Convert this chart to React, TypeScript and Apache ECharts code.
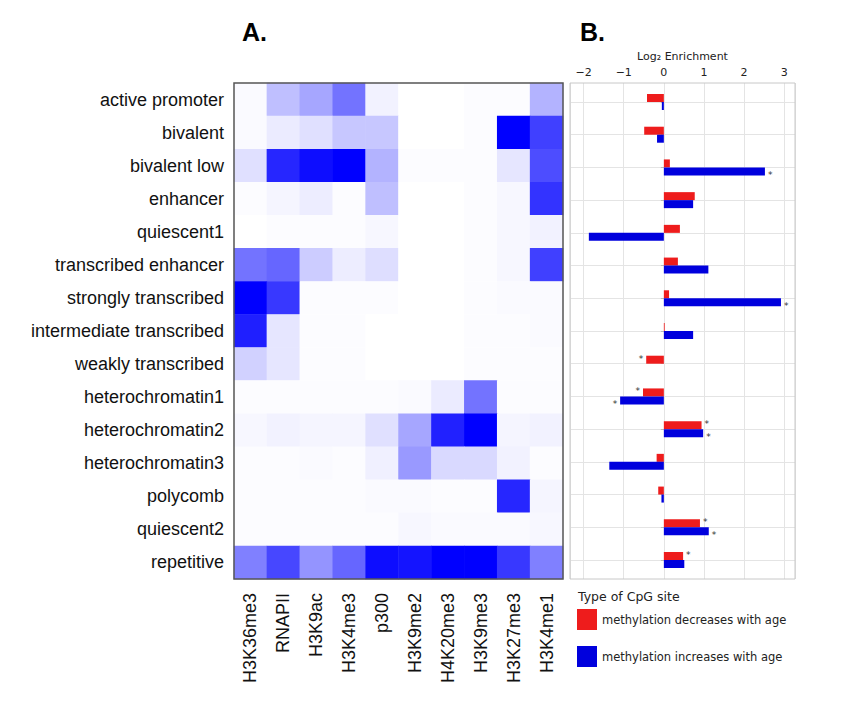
import React, { useEffect, useRef } from "react";
import * as echarts from "echarts";

// Chromatin states (rows of panel A, categories of panel B)
const states = [
  "active promoter",
  "bivalent",
  "bivalent low",
  "enhancer",
  "quiescent1",
  "transcribed enhancer",
  "strongly transcribed",
  "intermediate transcribed",
  "weakly transcribed",
  "heterochromatin1",
  "heterochromatin2",
  "heterochromatin3",
  "polycomb",
  "quiescent2",
  "repetitive",
];

// Histone marks / factors (columns of panel A)
const marks = [
  "H3K36me3",
  "RNAPII",
  "H3K9ac",
  "H3K4me3",
  "p300",
  "H3K9me2",
  "H4K20me3",
  "H3K9me3",
  "H3K27me3",
  "H3K4me1",
];

// Relative signal of each mark in each state (0 = none, 1 = strongest)
const activePromoter = [0.02, 0.25, 0.35, 0.55, 0.05, 0.0, 0.0, 0.01, 0.01, 0.3];
const bivalent = [0.02, 0.08, 0.12, 0.22, 0.22, 0.0, 0.0, 0.01, 1.0, 0.75];
const bivalentLow = [0.12, 0.85, 0.95, 1.0, 0.3, 0.01, 0.01, 0.01, 0.1, 0.7];
const enhancer = [0.01, 0.04, 0.07, 0.01, 0.25, 0.0, 0.0, 0.01, 0.03, 0.8];
const quiescent1 = [0.0, 0.01, 0.01, 0.01, 0.03, 0.0, 0.0, 0.01, 0.03, 0.05];
const transcribedEnhancer = [0.55, 0.6, 0.2, 0.07, 0.13, 0.0, 0.0, 0.01, 0.03, 0.75];
const stronglyTranscribed = [1.0, 0.78, 0.01, 0.01, 0.01, 0.0, 0.0, 0.01, 0.02, 0.02];
const intermediateTranscribed = [0.88, 0.1, 0.01, 0.01, 0.0, 0.0, 0.0, 0.01, 0.01, 0.02];
const weaklyTranscribed = [0.18, 0.1, 0.01, 0.01, 0.0, 0.0, 0.0, 0.01, 0.01, 0.01];
const heterochromatin1 = [0.01, 0.01, 0.01, 0.01, 0.01, 0.02, 0.08, 0.55, 0.01, 0.01];
const heterochromatin2 = [0.03, 0.05, 0.04, 0.04, 0.12, 0.35, 0.87, 1.0, 0.04, 0.05];
const heterochromatin3 = [0.01, 0.01, 0.02, 0.01, 0.06, 0.4, 0.15, 0.15, 0.05, 0.01];
const polycomb = [0.01, 0.01, 0.01, 0.01, 0.02, 0.02, 0.01, 0.01, 0.85, 0.04];
const quiescent2 = [0.01, 0.01, 0.01, 0.01, 0.01, 0.03, 0.02, 0.02, 0.02, 0.03];
const repetitive = [0.5, 0.72, 0.42, 0.6, 0.95, 0.92, 1.0, 1.0, 0.78, 0.5];

const stateSignal = [
  activePromoter,
  bivalent,
  bivalentLow,
  enhancer,
  quiescent1,
  transcribedEnhancer,
  stronglyTranscribed,
  intermediateTranscribed,
  weaklyTranscribed,
  heterochromatin1,
  heterochromatin2,
  heterochromatin3,
  polycomb,
  quiescent2,
  repetitive,
];

// Log2 enrichment of age-associated CpG sites per state
const decreasing = [-0.42, -0.49, 0.15, 0.77, 0.4, 0.35, 0.13, 0.02, -0.44, -0.52, 0.94, -0.18, -0.14, 0.9, 0.48];
const increasing = [-0.05, -0.17, 2.52, 0.73, -1.87, 1.11, 2.92, 0.73, 0.0, -1.09, 0.98, -1.36, -0.06, 1.12, 0.51];

// Indices of states with significant enrichment (marked with *)
const decreasingSignificant = [8, 9, 10, 13, 14];
const increasingSignificant = [2, 6, 9, 10, 13];

const decreasingName = "methylation decreases with age";
const increasingName = "methylation increases with age";

const ARIAL = "'Liberation Sans', Arial, sans-serif";
const DEJAVU = "'DejaVu Sans', sans-serif";

function barData(values: number[], significant: number[], dy: number) {
  return values.map((v, i) =>
    significant.includes(i)
      ? {
          value: v,
          label: {
            show: true,
            formatter: "*",
            position: v < 0 ? "left" : "right",
            distance: 3,
            fontSize: 9,
            color: "#333",
            fontFamily: DEJAVU,
            offset: [0, dy],
          },
        }
      : v
  );
}

function tickText(raw: number | string) {
  const v = Number(raw);
  const r = Math.round(v);
  if (Math.abs(v - r) > 1e-6) return "";
  return r < 0 ? "\u2212" + Math.abs(r) : String(r);
}

export default function App() {
  const ref = useRef<HTMLDivElement>(null);

  useEffect(() => {
    if (!ref.current) return;
    const chart = echarts.init(ref.current, undefined, { renderer: "svg" });

    const heatData: number[][] = [];
    stateSignal.forEach((row, r) => {
      row.forEach((v, c) => heatData.push([c, r, v]));
    });

    const xMin = -2.34;
    const xMax = 3.27;

    chart.setOption({
      animation: false,
      backgroundColor: "#ffffff",
      grid: [
        { left: 234, top: 83, width: 329, height: 496, containLabel: false },
        { left: 570, top: 83, width: 225, height: 496, containLabel: false },
        { left: 570, top: 102, width: 225, height: 458, containLabel: false },
      ],
      xAxis: [
        {
          type: "category",
          gridIndex: 0,
          data: marks,
          position: "bottom",
          axisLine: { show: false },
          axisTick: { show: false },
          axisLabel: {
            rotate: 90,
            margin: 14,
            fontSize: 18,
            fontFamily: ARIAL,
            color: "#111",
          },
        },
        {
          // full-height frame: vertical grid lines and tick labels
          type: "value",
          gridIndex: 1,
          position: "top",
          min: xMin,
          max: xMax,
          splitNumber: 5,
          name: "Log\u2082 Enrichment",
          nameLocation: "middle",
          nameGap: 20,
          nameTextStyle: { fontSize: 11, fontFamily: DEJAVU, color: "#222" },
          axisLine: { show: false },
          axisTick: { show: false },
          axisLabel: {
            show: true,
            margin: 5,
            fontSize: 11,
            fontFamily: DEJAVU,
            color: "#222",
            showMinLabel: false,
            showMaxLabel: false,
            formatter: tickText,
          },
          splitLine: { show: true, lineStyle: { color: "#e4e4e4", width: 1 } },
        },
        {
          // value axis of the bars
          type: "value",
          gridIndex: 2,
          min: xMin,
          max: xMax,
          show: false,
          splitLine: { show: false },
        },
      ],
      yAxis: [
        {
          type: "category",
          gridIndex: 0,
          data: states,
          inverse: true,
          axisLine: { show: false },
          axisTick: { show: false },
          axisLabel: {
            margin: 10,
            fontSize: 18,
            fontFamily: ARIAL,
            color: "#111",
          },
        },
        {
          type: "value",
          gridIndex: 1,
          show: false,
          min: 0,
          max: 1,
          splitLine: { show: false },
        },
        {
          type: "category",
          gridIndex: 2,
          data: states,
          inverse: true,
          boundaryGap: false,
          axisLine: { show: false },
          axisTick: { show: true, length: 3, lineStyle: { color: "#bbb" } },
          axisLabel: { show: false },
          splitLine: { show: true, lineStyle: { color: "#e4e4e4", width: 1 } },
        },
      ],
      visualMap: {
        type: "continuous",
        show: false,
        min: 0,
        max: 1,
        seriesIndex: 0,
        inRange: { color: ["#ffffff", "#0000ff"] },
      },
      legend: {
        data: [decreasingName, increasingName],
        orient: "vertical",
        left: 572,
        top: 604,
        icon: "rect",
        itemWidth: 20,
        itemHeight: 21,
        itemGap: 16,
        textStyle: { fontSize: 11.5, fontFamily: DEJAVU, color: "#222" },
      },
      graphic: [
        {
          type: "text",
          left: 242,
          top: 19,
          style: { text: "A.", font: "bold 25px 'Liberation Sans', Arial, sans-serif", fill: "#000" },
        },
        {
          type: "text",
          left: 580,
          top: 19,
          style: { text: "B.", font: "bold 25px 'Liberation Sans', Arial, sans-serif", fill: "#000" },
        },
        {
          type: "text",
          left: 578,
          top: 590,
          style: { text: "Type of CpG site", font: "12.5px 'DejaVu Sans', sans-serif", fill: "#222" },
        },
        {
          type: "rect",
          z: 100,
          shape: { x: 234, y: 83, width: 329, height: 496 },
          style: { fill: "none", stroke: "#555", lineWidth: 1.5 },
        },
        {
          type: "rect",
          z: 100,
          shape: { x: 570, y: 83, width: 225, height: 496 },
          style: { fill: "none", stroke: "#c8c8c8", lineWidth: 1 },
        },
      ],
      series: [
        {
          type: "heatmap",
          name: "signal",
          xAxisIndex: 0,
          yAxisIndex: 0,
          data: heatData,
          itemStyle: { borderWidth: 0 },
          emphasis: { disabled: true },
        },
        {
          type: "bar",
          name: decreasingName,
          xAxisIndex: 2,
          yAxisIndex: 2,
          data: barData(decreasing, decreasingSignificant, -1),
          barWidth: 8,
          barGap: "0%",
          itemStyle: { color: "#ee1c1c" },
        },
        {
          type: "bar",
          name: increasingName,
          xAxisIndex: 2,
          yAxisIndex: 2,
          data: barData(increasing, increasingSignificant, 4),
          barWidth: 8,
          barGap: "0%",
          itemStyle: { color: "#0000dd" },
        },
      ],
    });

    return () => chart.dispose();
  }, []);

  return (
    <div
      ref={ref}
      style={{ position: "absolute", left: 0, top: 0, width: 850, height: 714 }}
    />
  );
}
